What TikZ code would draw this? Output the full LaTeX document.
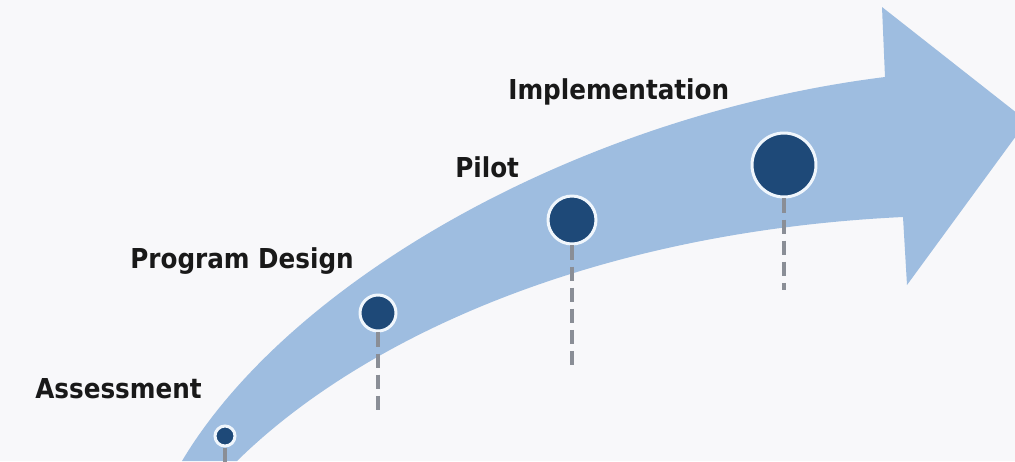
\documentclass[tikz,border=0pt]{standalone}
\usepackage{fontspec}
\newfontfamily\stagefont{DejaVu Sans Condensed Bold}
\usetikzlibrary{positioning}

\definecolor{paper}{RGB}{248,248,250}
\definecolor{bandblue}{RGB}{158,189,224}
\definecolor{dotblue}{RGB}{30,73,120}
\definecolor{ringwhite}{RGB}{240,246,252}
\definecolor{stemgray}{RGB}{138,142,150}

\tikzset{
  dot/.style={circle,fill=dotblue,draw=ringwhite,line width=1.7pt,inner sep=0pt},
  stem/.style={draw=stemgray,line width=2pt,dash pattern=on 8pt off 4pt},
  stage/.style={anchor=base west,inner sep=0pt,font=\stagefont\fontsize{15.6}{18}\selectfont,text=black!90}
}

\begin{document}
\begin{tikzpicture}[x=0.02cm,y=-0.02cm]

\path [use as bounding box,fill=paper] (0,0) rectangle (1015,461);
\clip (0,0) rectangle (1015,461);

\fill [bandblue] (182,461) .. controls (290,280) and (580,115) .. (885,77)
  -- (882,7) -- (1027,121) -- (907,285) -- (903,217)
  .. controls (590,232) and (360,340) .. (237,461) -- cycle;

\node (assess) [dot,minimum size=0.40cm] at (225,436) {};
\node (design) [dot,minimum size=0.72cm] at (378,313) {};
\node (pilot) [dot,minimum size=0.96cm] at (572,220) {};
\node (impl) [dot,minimum size=1.28cm] at (784,165) {};

\coordinate (assess end) at (225,475);
\coordinate (design end) at (378,410);
\coordinate (pilot end) at (572,368);
\coordinate (impl end) at (784,290);

\draw [stem] (assess) -- (assess end);
\draw [stem] (design) -- (design end);
\draw [stem] (pilot) -- (pilot end);
\draw [stem] (impl) -- (impl end);

\node (assess label) [stage] at (35,398) {Assessment};
\node (design label) [stage] at (130,268) {Program Design};
\node (pilot label) [stage] at (455,177) {Pilot};
\node (impl label) [stage] at (508,99) {Implementation};
\end{tikzpicture}
\end{document}
